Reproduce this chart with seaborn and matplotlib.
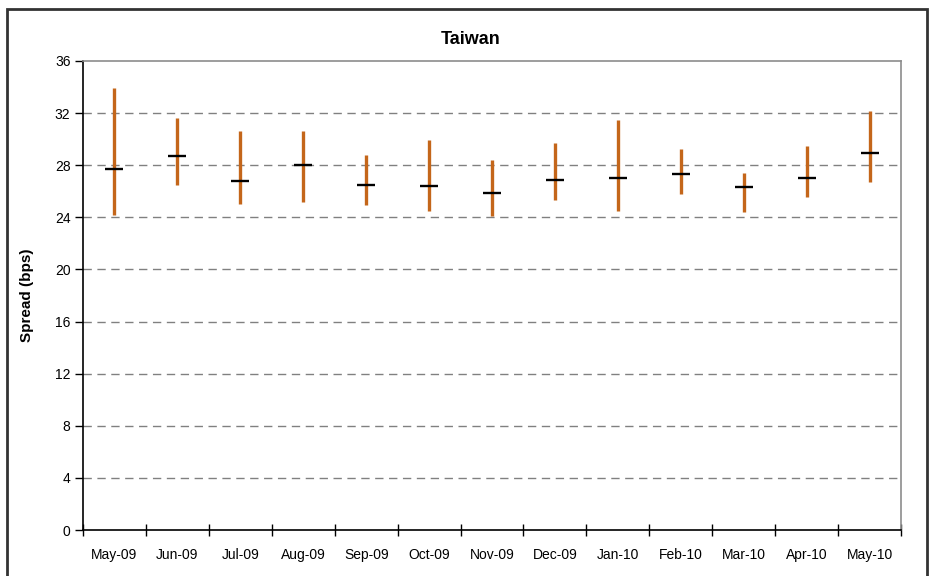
import matplotlib
matplotlib.use("Agg")
import matplotlib.pyplot as plt
import seaborn as sns
import pandas as pd
import numpy as np
from matplotlib.patches import Rectangle

months = ["May-09", "Jun-09", "Jul-09", "Aug-09", "Sep-09", "Oct-09", "Nov-09",
          "Dec-09", "Jan-10", "Feb-10", "Mar-10", "Apr-10", "May-10"]
high = [33.95, 31.65, 30.6, 30.6, 28.75, 29.95, 28.4, 29.7, 31.45, 29.25, 27.4, 29.45, 32.15]
low = [24.2, 26.5, 25.0, 25.15, 24.95, 24.5, 24.1, 25.3, 24.5, 25.8, 24.4, 25.55, 26.7]
avg = [27.7, 28.7, 26.8, 28.05, 26.45, 26.4, 25.9, 26.85, 27.05, 27.3, 26.3, 27.05, 28.9]
yticks = [0, 4, 8, 12, 16, 20, 24, 28, 32, 36]

sns.set_theme(style="white")
plt.rcParams["font.family"] = ["Liberation Sans", "DejaVu Sans"]

range_df = pd.DataFrame({
    "month": months * 2,
    "value": low + high,
})
avg_df = pd.DataFrame({"month": months, "value": avg})

fig = plt.figure(figsize=(9.3, 5.76), dpi=100)
ax = fig.add_axes([83 / 930, 1 - 530 / 576, (901 - 83) / 930, (530 - 61) / 576])

sns.pointplot(data=range_df, x="month", y="value", order=months,
              estimator="mean", errorbar=lambda v: (v.min(), v.max()),
              linestyle="none", markers="", color="#C4661A",
              err_kws={"linewidth": 2.4, "solid_capstyle": "butt"}, capsize=0, ax=ax)
sns.pointplot(data=avg_df, x="month", y="value", order=months,
              errorbar=None, linestyle="none", markers="_", markersize=12.5,
              markeredgewidth=1.7, color="black", ax=ax)

ax.set_xlim(-0.5, len(months) - 0.5)
ax.set_ylim(0, 36)
ax.set_yticks(yticks)
ax.set_yticklabels([str(t) for t in yticks], fontsize=10)
ax.set_xticks(range(len(months)))
ax.set_xticklabels(months, fontsize=10)
ax.set_xticks(np.arange(-0.5, len(months), 1.0), minor=True)
ax.tick_params(axis="x", which="both", bottom=True)
ax.tick_params(axis="y", which="both", left=True)
ax.tick_params(axis="x", which="major", length=0, pad=11, colors="black")
ax.tick_params(axis="x", which="minor", length=8, width=1, direction="inout", color="black")
ax.tick_params(axis="y", which="major", length=6, width=1, direction="out", color="black",
               pad=3, labelcolor="black")
for lab in ax.get_xticklabels():
    lab.set_verticalalignment("baseline")
    lab.set_y(-0.03)

for t in yticks[1:-1]:
    ax.axhline(t, color="#808080", linestyle=(0, (6, 4)), linewidth=1, zorder=0)

for s in ["left", "bottom"]:
    ax.spines[s].set_color("black")
    ax.spines[s].set_linewidth(1.2)
for s in ["top", "right"]:
    ax.spines[s].set_color("#8c8c8c")
    ax.spines[s].set_linewidth(1.2)

ax.set_xlabel("")
ax.set_ylabel("Spread (bps)", fontsize=11, fontweight="bold", color="black")
ax.yaxis.label.set_verticalalignment("center")
ax.yaxis.set_label_coords(-(83 - 27) / 818, 0.5)
fig.text(471 / 930, 1 - 40 / 576, "Taiwan", ha="center", va="center",
         fontsize=13, fontweight="bold", color="black")

fig.patches.append(Rectangle((7 / 930, -0.02), (927 - 7) / 930, 1.02 - 9 / 576,
                             transform=fig.transFigure, fill=False,
                             edgecolor="#333333", linewidth=2))

fig.savefig("out.png", dpi=100)
